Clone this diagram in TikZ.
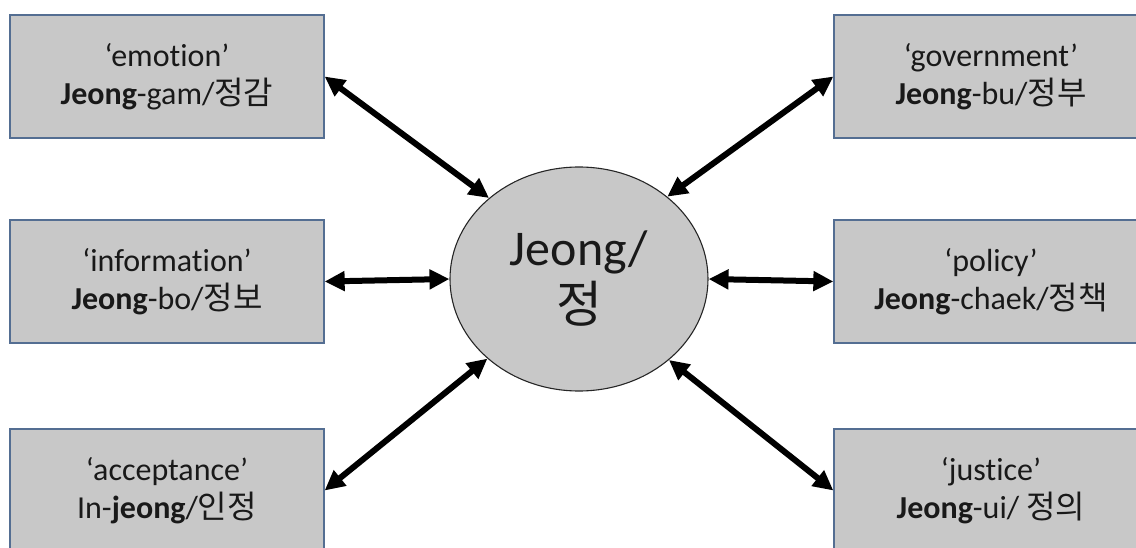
\documentclass[tikz,border=0pt]{standalone}
\usepackage{fontspec}
\setmainfont{Carlito}[Ligatures=NoCommon]
\newfontfamily\kr{Noto Sans CJK KR}[Scale=1.0]
\usetikzlibrary{arrows.meta,shapes.geometric}
\definecolor{boxfill}{RGB}{200,200,200}
\definecolor{boxline}{RGB}{84,110,146}
\begin{document}
\begin{tikzpicture}[x=1pt,y=-1pt,
  termbox/.style={draw=boxline, line width=1.3pt, fill=boxfill, rectangle,
    minimum width=314pt, minimum height=123pt, inner sep=0pt, align=center,
    font=\fontsize{32}{38}\selectfont, text=black!90},
  hub/.style={draw=black!85, line width=1.1pt, fill=boxfill, ellipse,
    minimum width=258pt, minimum height=224pt, inner sep=0pt, align=center,
    font=\fontsize{50}{57}\selectfont, text=black!90},
  link/.style={line width=6pt, {Triangle[length=20pt,width=19pt]}-{Triangle[length=20pt,width=19pt]}}]
\useasboundingbox (0,0) rectangle (1136,548);
\clip (0,0) rectangle (1136,548);

% centre node
\node[hub] (c) at (579,279) {Jeong/\\{\kr 정}};

% left column
\node[termbox] (emo) at (167,76.5) {‘emotion’\\\textbf{Jeong}-gam/{\kr 정감}};
\node[termbox] (inf) at (167,281.5) {‘information’\\\textbf{Jeong}-bo/{\kr 정보}};
\node[termbox] (acc) at (167,490.5) {‘acceptance’\\In-\textbf{jeong}/{\kr 인정}};

% right column
\node[termbox] (gov) at (991,76.5) {‘government’\\\textbf{Jeong}-bu/{\kr 정부}};
\node[termbox] (pol) at (991,281.5) {‘policy’\\\textbf{Jeong}-chaek/{\kr 정책}};
\node[termbox] (jus) at (991,490.5) {‘justice’\\\textbf{Jeong}-ui/ {\kr 정의}};

% connectors
\draw[link] (emo.east) -- (c.138);
\draw[link] (inf.east) -- (c.west);
\draw[link] (acc.east) -- (c.221);
\draw[link] (gov.west) -- (c.43);
\draw[link] (pol.west) -- (c.east);
\draw[link] (jus.west) -- (c.318);
\end{tikzpicture}
\end{document}
